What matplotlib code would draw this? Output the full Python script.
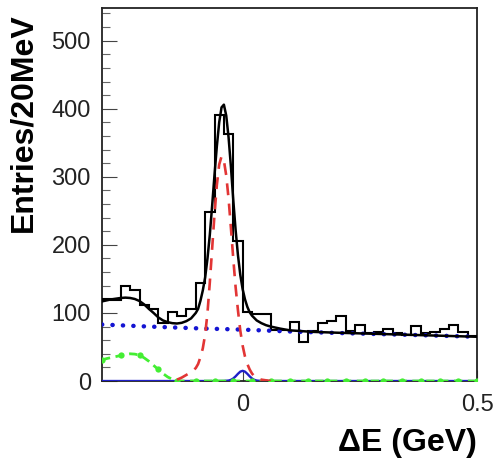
import matplotlib
matplotlib.use("Agg")
import matplotlib.pyplot as plt
import numpy as np

# ---------------- data ----------------
BIN_EDGES_RANGE = (-0.30, 0.50)   # GeV, 20 MeV bins
HIST_COUNTS = [121, 119, 140, 133, 112, 106, 85, 102, 95, 106,
               144, 249, 391, 363, 206, 102, 99, 99, 75, 75,
               87, 58, 74, 85, 88, 96, 74, 82, 70, 72,
               76, 71, 67, 81, 71, 72, 76, 83, 72, 66]

# total fit (black solid)
TOTAL_X = [-0.30, -0.29, -0.28, -0.27, -0.26, -0.25, -0.24, -0.23, -0.22, -0.21,
           -0.20, -0.19, -0.18, -0.17, -0.16, -0.15, -0.14, -0.13, -0.12, -0.11,
           -0.10, -0.095, -0.09, -0.085, -0.08, -0.075, -0.07, -0.065, -0.06, -0.055,
           -0.05, -0.045, -0.04, -0.035, -0.03, -0.025, -0.02, -0.015, -0.01, -0.005,
           0.00, 0.005, 0.01, 0.015, 0.02, 0.03, 0.04, 0.05, 0.06, 0.08,
           0.10, 0.15, 0.20, 0.25, 0.30, 0.35, 0.40, 0.45, 0.50]
TOTAL_Y = [117, 118.5, 120, 121, 122, 122.5, 122, 120.5, 117.5, 112.5,
           106, 100, 93.5, 89, 86.5, 85, 84.5, 85.5, 88, 92,
           100, 106, 118, 133, 152, 180, 215, 258, 303, 345,
           380, 402, 406, 390, 358, 315, 266, 222, 185, 156,
           135, 120, 109, 101, 96, 89, 85, 82, 80, 77,
           74.5, 72.2, 71, 70, 69, 68, 67, 66, 65]

# signal component (red dashed)
SIG_X = [-0.14, -0.13, -0.12, -0.11, -0.10, -0.095, -0.09, -0.085, -0.08, -0.075,
         -0.07, -0.065, -0.06, -0.055, -0.05, -0.045, -0.04, -0.035, -0.03, -0.025,
         -0.02, -0.015, -0.01, -0.005, 0.00, 0.005, 0.01, 0.015, 0.02, 0.025,
         0.03, 0.035, 0.04, 0.05, 0.06]
SIG_Y = [2, 5, 9, 13, 19, 25, 35, 48, 68, 100,
         145, 195, 245, 288, 318, 330, 324, 302, 268, 225,
         180, 138, 104, 74, 52, 36, 25, 17, 11, 7,
         4.5, 3, 2, 1, 0]

# small peaking component (blue solid)
PEAK_X = [-0.30, -0.05, -0.04, -0.03, -0.025, -0.02, -0.015, -0.01, -0.005, 0.00,
          0.005, 0.01, 0.015, 0.02, 0.025, 0.03, 0.04, 0.05, 0.50]
PEAK_Y = [0, 0, 0.1, 0.7, 1.7, 3.7, 6.9, 10.6, 13.8, 15,
          13.8, 10.6, 6.9, 3.7, 1.7, 0.7, 0.1, 0, 0]

# combinatorial background (blue dotted)
BKG_X = [-0.30, -0.20, -0.10, 0.00, 0.10, 0.20, 0.30, 0.40, 0.50]
BKG_Y = [83, 80, 77.5, 75.5, 72.8, 70.6, 68.8, 67, 65]

# other B background (green dash-dot), 10 MeV steps
GREEN_X = [round(-0.30 + 0.01 * i, 2) for i in range(81)]
GREEN_Y = [31, 33, 34.5, 36, 37.5, 39, 40, 39.5, 38, 34,
           29, 23, 17, 11, 6, 2.5, 0.5] + [0.0] * 64

X_TICKS = [0.0, 0.5]
X_TICKLABELS = ["0", "0.5"]
Y_TICKS = [0, 100, 200, 300, 400, 500]

# ---------------- plotting ----------------
plt.rcParams['font.family'] = ['Liberation Sans', 'DejaVu Sans']

fig = plt.figure(figsize=(4.94, 4.65), dpi=100)
ax = fig.add_axes([0.2065, 0.1806, 0.9656 - 0.2065, 0.9828 - 0.1806])

edges = np.linspace(BIN_EDGES_RANGE[0], BIN_EDGES_RANGE[1], len(HIST_COUNTS) + 1)
ax.stairs(HIST_COUNTS, edges, baseline=None, color='black', linewidth=1.5, zorder=3)

# blue solid component (also along zero)
ax.plot(PEAK_X, PEAK_Y, color='#1f1fc8', linewidth=1.7, zorder=4)

# green dash-dot with dots
ax.plot(GREEN_X, GREEN_Y, color='#44ee33', linewidth=2.0,
        linestyle=(0, (3, 2)), marker='o', markersize=4.5, markevery=4,
        markeredgewidth=0, zorder=5)

# blue dotted background
ax.plot(BKG_X, BKG_Y, color='#1414d2', linewidth=3.2,
        linestyle=(0, (0.05, 2.3)), dash_capstyle='round', zorder=4)

# red dashed signal
ax.plot(SIG_X, SIG_Y, color='#e23535', linewidth=1.9,
        linestyle=(0, (4.5, 3.2)), zorder=5)

# black total
ax.plot(TOTAL_X, TOTAL_Y, color='black', linewidth=1.8, zorder=6)

ax.set_xlim(BIN_EDGES_RANGE)
ax.set_ylim(0, 548)

ax.set_xticks(X_TICKS)
ax.set_xticklabels(X_TICKLABELS)
ax.set_yticks(Y_TICKS)
ax.set_yticks(np.arange(0, 541, 20), minor=True)

ax.tick_params(axis='y', which='major', direction='in', length=10.5, width=0.8,
               color='#444444', labelsize=17, pad=8, labelcolor='#222222')
ax.tick_params(axis='y', which='minor', direction='in', length=5.5, width=0.8,
               color='#666666')
ax.tick_params(axis='x', which='major', direction='in', length=8, width=0.8,
               color='#444444', labelsize=17, pad=9, labelcolor='#222222')

for s in ax.spines.values():
    s.set_linewidth(1.3)
    s.set_color('#222222')

ax.set_xlabel('ΔE (GeV)', fontsize=23, fontweight='bold', loc='right')
ax.xaxis.set_label_coords(1.0, -0.125)
ax.set_ylabel('Entries/20MeV', fontsize=23, fontweight='bold', loc='top')
ax.yaxis.set_label_coords(-0.17, 0.987)

fig.savefig('out.png', dpi=100)
